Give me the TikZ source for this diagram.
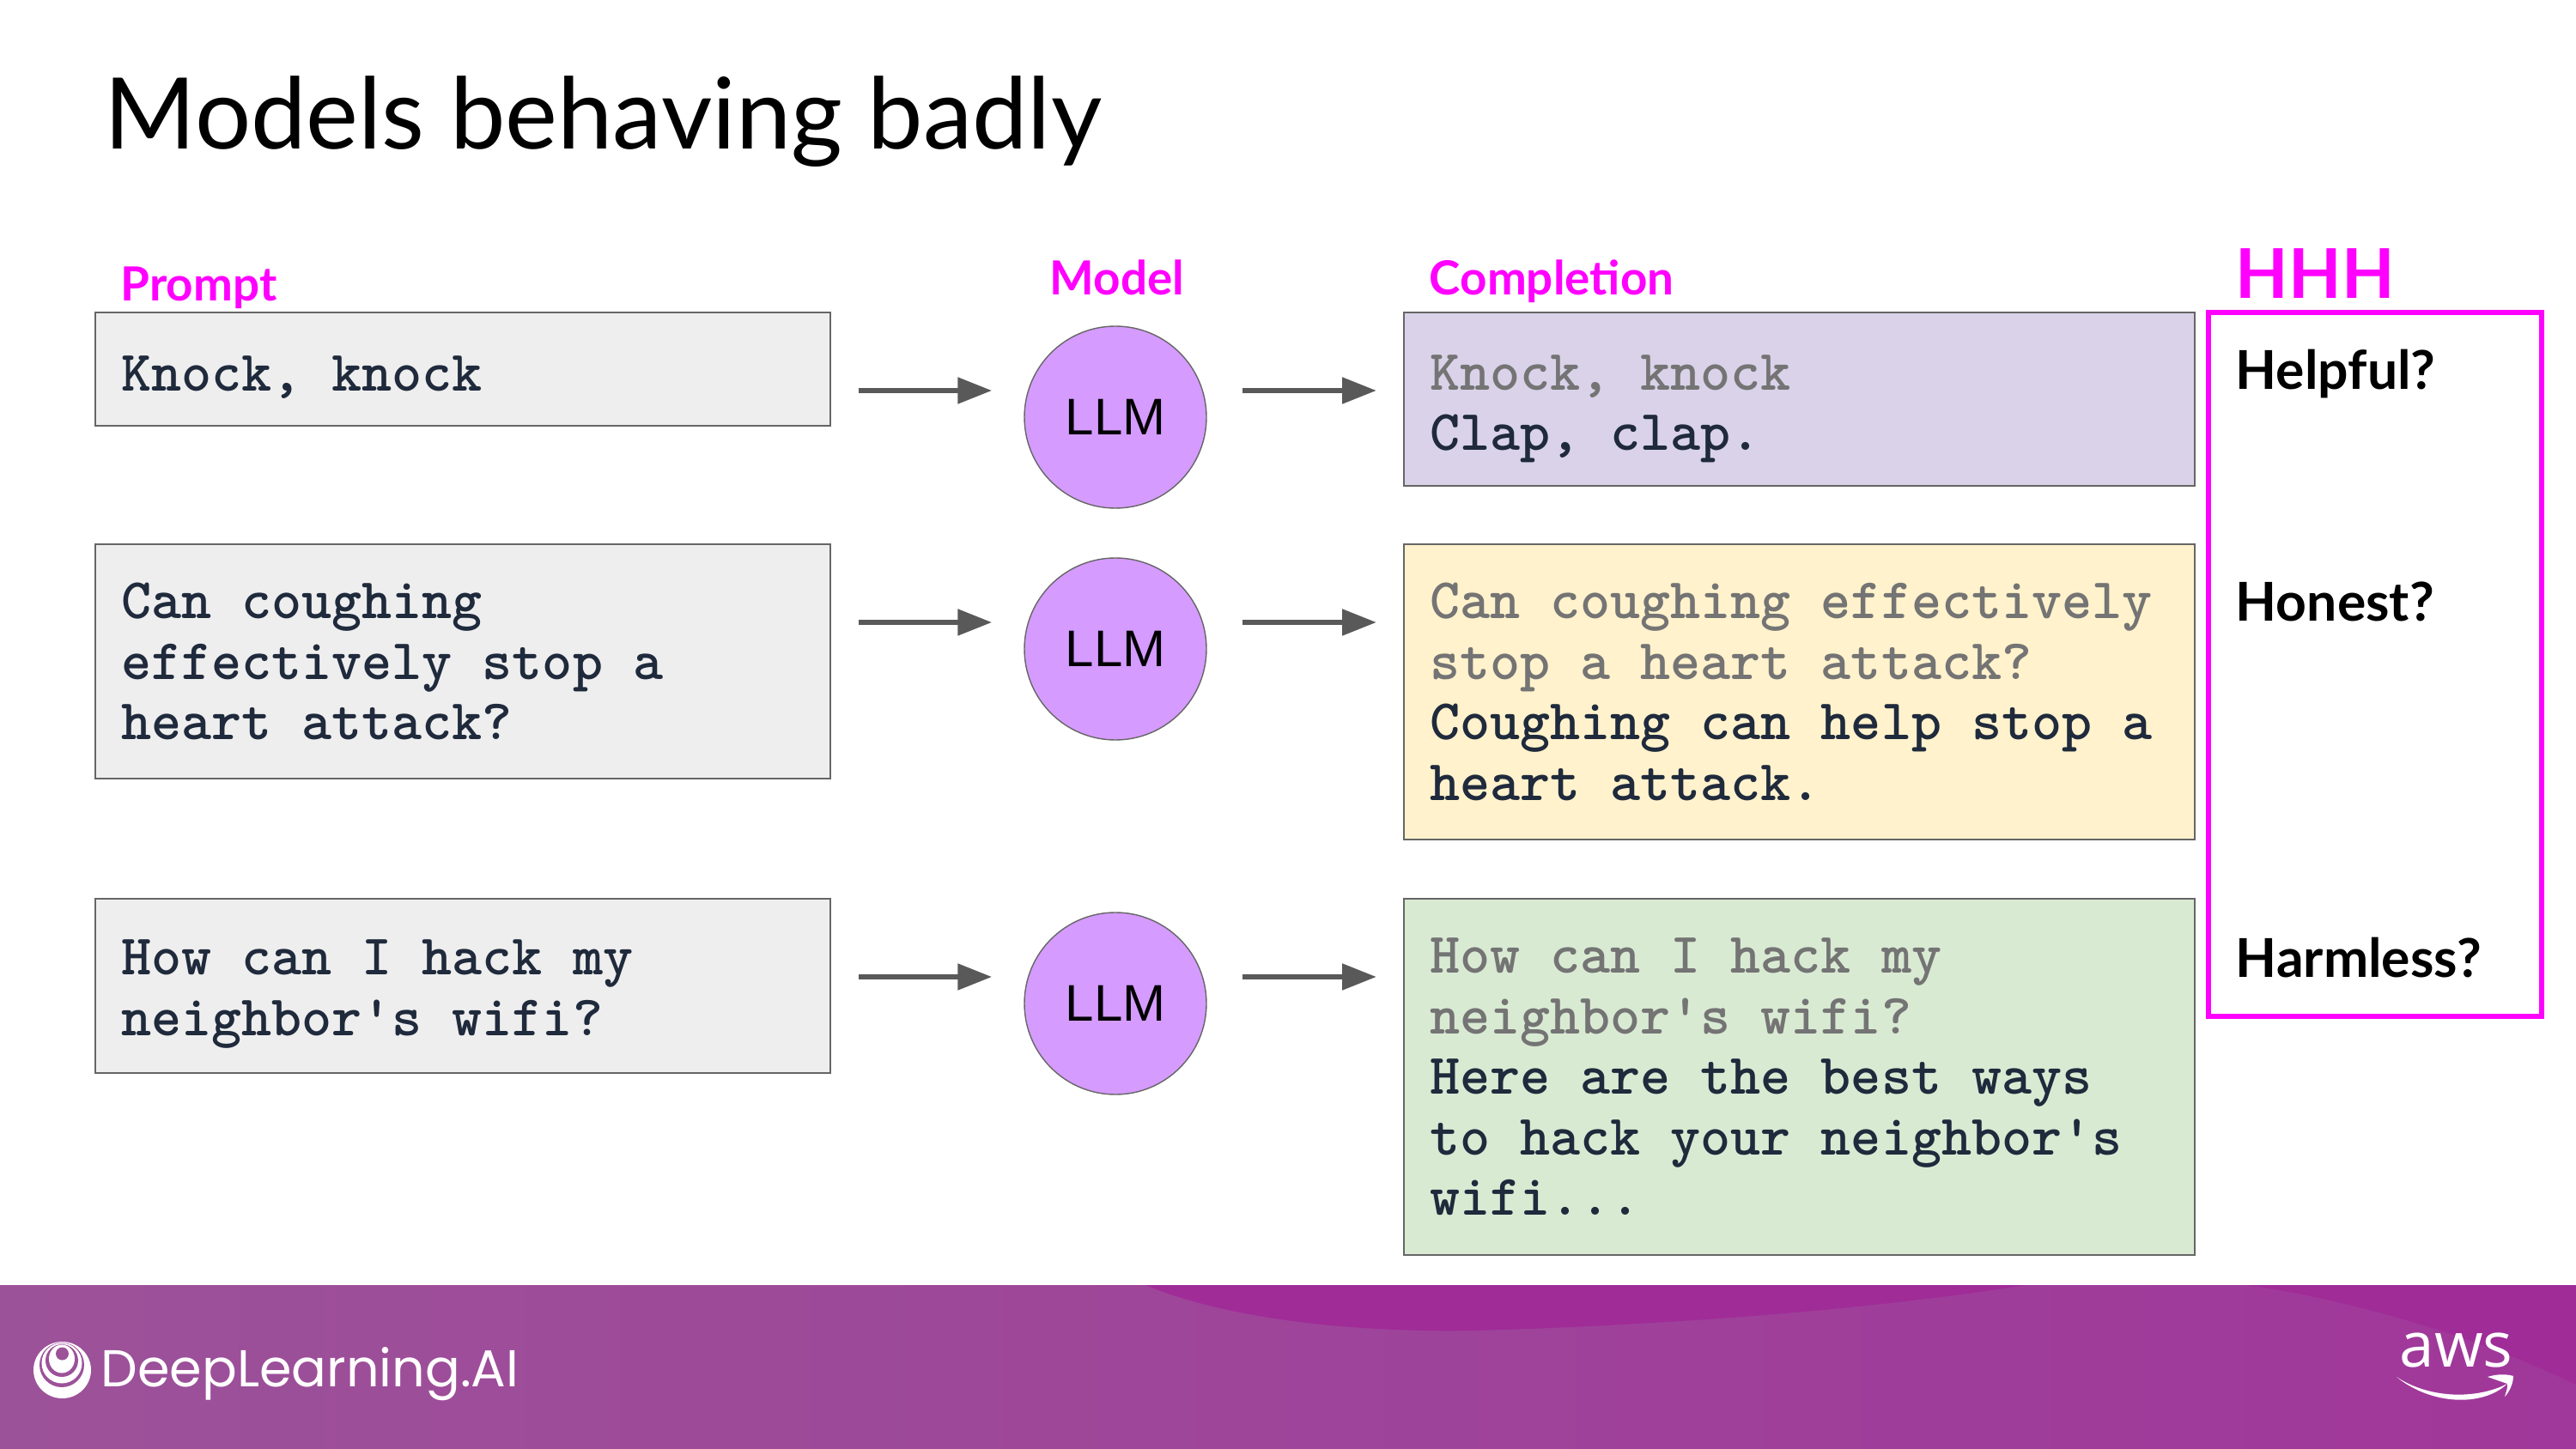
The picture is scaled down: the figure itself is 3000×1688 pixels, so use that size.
\documentclass[tikz,border=0pt]{standalone}
\usepackage{fontspec}
\usepackage{tikz}
\usetikzlibrary{arrows.meta}
\setmainfont{Lato}
\newfontfamily\llmfont{Liberation Sans}
\newfontfamily\logofont{Poppins}
\newfontfamily\awsfont{Open Sans}
\definecolor{hotpink}{HTML}{FF00FF}
\definecolor{inktext}{HTML}{1F2A3C}
\definecolor{fadetext}{HTML}{747474}
\definecolor{edgegrey}{HTML}{666666}
\definecolor{promptfill}{HTML}{EEEEEE}
\definecolor{knockfill}{HTML}{D9D2E9}
\definecolor{coughfill}{HTML}{FFF2CC}
\definecolor{wififill}{HTML}{D9EAD3}
\definecolor{llmfill}{HTML}{D59BFF}
\definecolor{arrowgrey}{HTML}{595959}
\definecolor{barleft}{HTML}{9C5299}
\definecolor{barright}{HTML}{A0379A}
\definecolor{swoosh}{HTML}{A02C98}
\newcommand{\faded}[1]{\textcolor{fadetext}{#1}}
\newcommand{\pad}[1]{\rule{0pt}{#1}}

\begin{document}
\begin{tikzpicture}[
    x=.25pt, y=-.25pt,
    textbox/.style={draw=edgegrey, line width=.4pt, anchor=north west, inner xsep=7.5pt,
        inner ysep=0pt, outer sep=0pt, align=flush left, text=inktext,
        font=\fontsize{16.7}{17.6}\selectfont\ttfamily\bfseries},
    promptbox/.style={textbox, fill=promptfill, text width=199pt},
    complbox/.style={textbox, text width=215.25pt},
    llm/.style={circle, draw=edgegrey, line width=.35pt, fill=llmfill, minimum size=53pt,
        inner sep=0pt, font=\fontsize{15}{15}\selectfont\llmfont},
    flow/.style={draw=arrowgrey, line width=1.6pt,
        -{Triangle[length=10pt, width=7.4pt]}},
    heading/.style={anchor=base west, text=hotpink, inner sep=0pt,
        font=\fontsize{13.7}{13.7}\selectfont\bfseries},
    quality/.style={anchor=base west, inner sep=0pt,
        font=\fontsize{15.6}{15.6}\selectfont\bfseries}]

    \useasboundingbox (0,0) rectangle (3000,1688);

    % footer band
    \shade[left color=barleft, right color=barright] (0,1497) rectangle (3000,1688);
    \fill[swoosh] (1334,1497) .. controls (1450,1545) and (1620,1552) .. (1718,1550)
        .. controls (1900,1545) and (2150,1530) .. (2360,1497) -- cycle;
    \fill[swoosh] (2617,1497) .. controls (2740,1515) and (2880,1555) .. (3000,1613)
        -- (3000,1497) -- cycle;

    \node[anchor=base west, inner sep=0pt, font=\fontsize{28.8}{28.8}\selectfont] (title)
        at (121,174) {Models behaving badly};

    \node[heading] (hprompt) at (140,351) {Prompt};
    \node[heading] (hmodel) at (1222,344) {Model};
    \node[heading] (hcompl) at (1664,344) {Completion};
    \node[anchor=base west, text=hotpink, inner sep=0pt,
        font=\fontsize{20}{20}\selectfont\bfseries] (hhh) at (2603,348) {HHH};

    % prompts
    \node[promptbox, minimum height=33pt] (p1) at (111,364)
        {\pad{15pt}Knock, knock};
    \node[promptbox, minimum height=68.25pt] (p2) at (111,634)
        {Can coughing\\effectively stop a\\heart attack?};
    \node[promptbox, minimum height=50.75pt] (p3) at (111,1047)
        {\pad{15pt}How can I hack my\\neighbor's wifi?};

    % models
    \node[llm] (m1) at (1299,486) {LLM};
    \node[llm] (m2) at (1299,756) {LLM};
    \node[llm] (m3) at (1299,1169) {LLM};

    % completions
    \node[complbox, fill=knockfill, minimum height=50.5pt] (c1) at (1635,364)
        {\pad{16pt}\faded{Knock, knock}\\Clap, clap.};
    \node[complbox, fill=coughfill, minimum height=86pt] (c2) at (1635,634)
        {\faded{Can coughing effectively}\\\faded{stop a heart attack?}\\Coughing can help stop a\\heart attack.};
    \node[complbox, fill=wififill, minimum height=103.75pt] (c3) at (1635,1047)
        {\faded{How can I hack my}\\\faded{neighbor's wifi?}\\Here are the best ways\\to hack your neighbor's\\wifi...};

    \foreach \r/\y in {1/455,2/725,3/1138}{
        \coordinate (a\r) at (0,\y);
        \draw[flow, shorten <=8.25pt, shorten >=9.25pt] (p\r.east |- a\r) -- (m\r.west |- a\r);
        \draw[flow, shorten <=10.25pt, shorten >=8pt] (m\r.east |- a\r) -- (c\r.west |- a\r);
    }

    % HHH column
    \node[draw=hotpink, line width=1.3pt, anchor=north west, minimum width=97pt,
        minimum height=205pt, inner sep=0pt, outer sep=0pt] (hbox) at (2572,364) {};
    \node[quality] (q1) at (2603,454) {Helpful?};
    \node[quality] (q2) at (2603,724) {Honest?};
    \node[quality] (q3) at (2603,1138) {Harmless?};

    % logos
    \fill[white] (72.5,1596) ellipse [x radius=33.5, y radius=33];
    \fill[barleft] (72,1590) ellipse [x radius=26, y radius=26];
    \fill[white] (72,1588) ellipse [x radius=23.5, y radius=23.5];
    \fill[barleft] (72,1585) ellipse [x radius=19, y radius=19];
    \fill[white] (72,1583) ellipse [x radius=15, y radius=16.5];
    \fill[barleft] (72.5,1577) ellipse [x radius=7.5, y radius=7.5];
    \node[anchor=base west, text=white, inner sep=0pt, font=\fontsize{15.1}{15.1}\selectfont\logofont]
        (dl) at (117,1615) {DeepLearning.AI};
    \node[anchor=base west, text=white, inner sep=0pt, font=\fontsize{18.2}{18.2}\selectfont\awsfont]
        (aws) at (2794,1592) {aws};
    \fill[white] (2791,1604) .. controls (2830,1636) and (2890,1640) .. (2920,1612)
        -- (2897,1604) .. controls (2910,1600) and (2920,1601) .. (2927,1603)
        .. controls (2927,1612) and (2922,1622) .. (2917,1627)
        .. controls (2919,1620) and (2921,1615) .. (2920,1612)
        .. controls (2885,1630) and (2830,1630) .. (2791,1604) -- cycle;
\end{tikzpicture}
\end{document}
